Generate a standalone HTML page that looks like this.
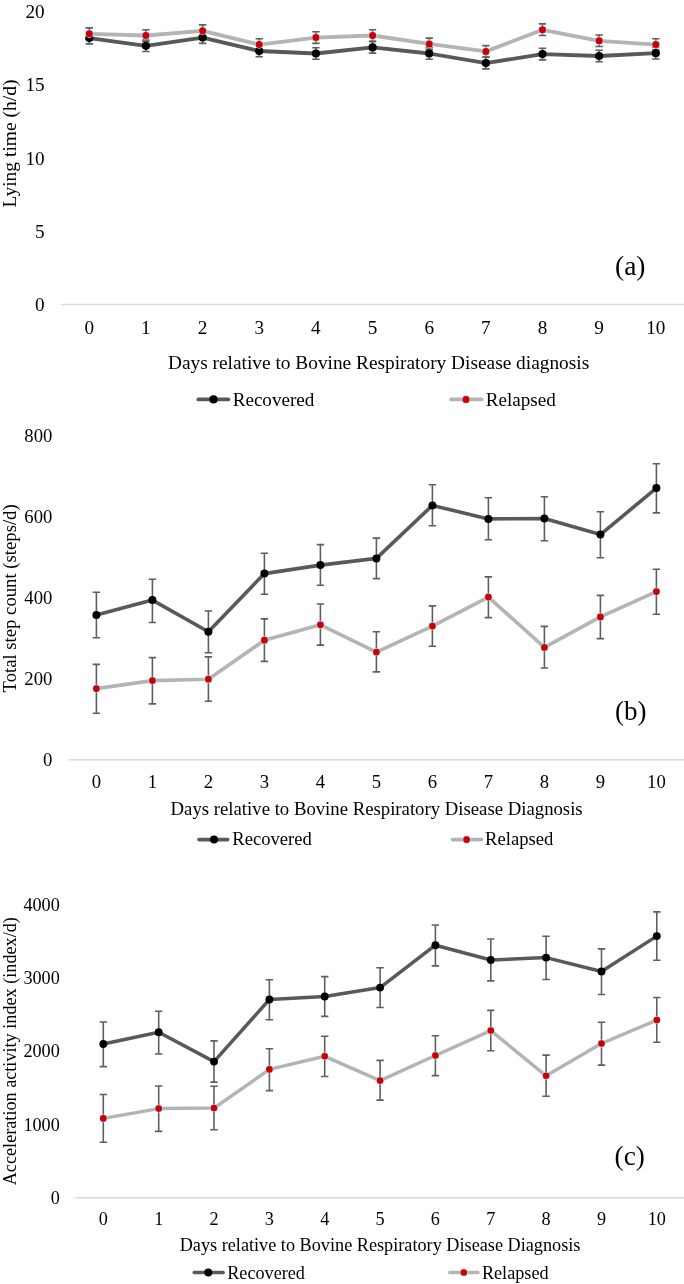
<!DOCTYPE html>
<html><head><meta charset="utf-8"><style>
html,body{margin:0;padding:0;background:#fff;}
body{width:684px;height:1284px;overflow:hidden;position:relative;}
svg{display:block;position:absolute;left:0;top:0;}
#txt{will-change:transform;}
svg text{font-family:"Liberation Serif", serif;fill:#000;}
</style></head><body>
<svg width="684" height="1284" viewBox="0 0 684 1284">
<rect width="684" height="1284" fill="#fff"/>
<line x1="61" y1="304.5" x2="690" y2="304.5" stroke="#dadada" stroke-width="1.5"/>
<path d="M89.3 32.3V43.9M85.6 32.3H93.0M85.6 43.9H93.0M145.9 40.0V51.5M142.2 40.0H149.6M142.2 51.5H149.6M202.6 31.8V43.4M198.9 31.8H206.3M198.9 43.4H206.3M259.2 45.2V56.8M255.6 45.2H262.9M255.6 56.8H262.9M315.9 47.7V59.2M312.2 47.7H319.6M312.2 59.2H319.6M372.6 41.6V53.1M368.9 41.6H376.2M368.9 53.1H376.2M429.2 47.7V59.2M425.5 47.7H432.9M425.5 59.2H432.9M485.9 57.3V68.9M482.2 57.3H489.6M482.2 68.9H489.6M542.5 48.3V59.9M538.8 48.3H546.2M538.8 59.9H546.2M599.1 50.2V61.8M595.4 50.2H602.9M595.4 61.8H602.9M655.8 47.5V59.0M652.1 47.5H659.5M652.1 59.0H659.5" stroke="#5f5f5f" stroke-width="1.6" fill="none"/>
<path d="M89.3 27.9V39.5M85.6 27.9H93.0M85.6 39.5H93.0M145.9 29.7V41.2M142.2 29.7H149.6M142.2 41.2H149.6M202.6 24.9V36.5M198.9 24.9H206.3M198.9 36.5H206.3M259.2 38.8V50.4M255.6 38.8H262.9M255.6 50.4H262.9M315.9 31.8V43.4M312.2 31.8H319.6M312.2 43.4H319.6M372.6 29.7V41.2M368.9 29.7H376.2M368.9 41.2H376.2M429.2 38.1V49.6M425.5 38.1H432.9M425.5 49.6H432.9M485.9 45.6V57.1M482.2 45.6H489.6M482.2 57.1H489.6M542.5 23.9V35.5M538.8 23.9H546.2M538.8 35.5H546.2M599.1 35.0V46.5M595.4 35.0H602.9M595.4 46.5H602.9M655.8 38.8V50.4M652.1 38.8H659.5M652.1 50.4H659.5" stroke="#5f5f5f" stroke-width="1.6" fill="none"/>
<polyline points="89.3,33.8 145.9,35.5 202.6,30.8 259.2,44.6 315.9,37.6 372.6,35.5 429.2,43.9 485.9,51.4 542.5,29.8 599.1,40.8 655.8,44.6" fill="none" stroke="#b4b4b4" stroke-width="3.8" stroke-linejoin="round"/>
<polyline points="89.3,38.1 145.9,45.8 202.6,37.6 259.2,51.0 315.9,53.5 372.6,47.4 429.2,53.5 485.9,63.1 542.5,54.1 599.1,56.0 655.8,53.2" fill="none" stroke="#595959" stroke-width="3.8" stroke-linejoin="round"/>
<circle cx="89.3" cy="38.1" r="4.1" fill="#000"/>
<circle cx="145.9" cy="45.8" r="4.1" fill="#000"/>
<circle cx="202.6" cy="37.6" r="4.1" fill="#000"/>
<circle cx="259.2" cy="51.0" r="4.1" fill="#000"/>
<circle cx="315.9" cy="53.5" r="4.1" fill="#000"/>
<circle cx="372.6" cy="47.4" r="4.1" fill="#000"/>
<circle cx="429.2" cy="53.5" r="4.1" fill="#000"/>
<circle cx="485.9" cy="63.1" r="4.1" fill="#000"/>
<circle cx="542.5" cy="54.1" r="4.1" fill="#000"/>
<circle cx="599.1" cy="56.0" r="4.1" fill="#000"/>
<circle cx="655.8" cy="53.2" r="4.1" fill="#000"/>
<circle cx="89.3" cy="33.8" r="4.10" fill="#d2d6d6"/><circle cx="89.3" cy="33.8" r="3.5" fill="#c8000a"/>
<circle cx="145.9" cy="35.5" r="4.10" fill="#d2d6d6"/><circle cx="145.9" cy="35.5" r="3.5" fill="#c8000a"/>
<circle cx="202.6" cy="30.8" r="4.10" fill="#d2d6d6"/><circle cx="202.6" cy="30.8" r="3.5" fill="#c8000a"/>
<circle cx="259.2" cy="44.6" r="4.10" fill="#d2d6d6"/><circle cx="259.2" cy="44.6" r="3.5" fill="#c8000a"/>
<circle cx="315.9" cy="37.6" r="4.10" fill="#d2d6d6"/><circle cx="315.9" cy="37.6" r="3.5" fill="#c8000a"/>
<circle cx="372.6" cy="35.5" r="4.10" fill="#d2d6d6"/><circle cx="372.6" cy="35.5" r="3.5" fill="#c8000a"/>
<circle cx="429.2" cy="43.9" r="4.10" fill="#d2d6d6"/><circle cx="429.2" cy="43.9" r="3.5" fill="#c8000a"/>
<circle cx="485.9" cy="51.4" r="4.10" fill="#d2d6d6"/><circle cx="485.9" cy="51.4" r="3.5" fill="#c8000a"/>
<circle cx="542.5" cy="29.8" r="4.10" fill="#d2d6d6"/><circle cx="542.5" cy="29.8" r="3.5" fill="#c8000a"/>
<circle cx="599.1" cy="40.8" r="4.10" fill="#d2d6d6"/><circle cx="599.1" cy="40.8" r="3.5" fill="#c8000a"/>
<circle cx="655.8" cy="44.6" r="4.10" fill="#d2d6d6"/><circle cx="655.8" cy="44.6" r="3.5" fill="#c8000a"/>
<line x1="198.40" y1="399.4" x2="228.40" y2="399.4" stroke="#595959" stroke-width="3.8" stroke-linecap="round"/>
<circle cx="213.5" cy="399.4" r="4.1" fill="#000"/>
<line x1="451.10" y1="399.4" x2="481.50" y2="399.4" stroke="#b4b4b4" stroke-width="3.8" stroke-linecap="round"/>
<circle cx="466" cy="399.4" r="4.10" fill="#d2d6d6"/><circle cx="466" cy="399.4" r="3.5" fill="#c8000a"/>
<line x1="68.5" y1="759.7" x2="690" y2="759.7" stroke="#dadada" stroke-width="1.5"/>
<path d="M96.4 592.3V637.7M92.7 592.3H100.1M92.7 637.7H100.1M152.4 579.2V622.5M148.7 579.2H156.1M148.7 622.5H156.1M208.4 611.0V652.7M204.7 611.0H212.1M204.7 652.7H212.1M264.4 553.3V594.2M260.7 553.3H268.1M260.7 594.2H268.1M320.4 544.6V585.3M316.7 544.6H324.1M316.7 585.3H324.1M376.4 538.1V578.6M372.7 538.1H380.1M372.7 578.6H380.1M432.4 484.8V525.8M428.7 484.8H436.1M428.7 525.8H436.1M488.4 497.7V539.8M484.7 497.7H492.1M484.7 539.8H492.1M544.4 496.7V540.7M540.7 496.7H548.1M540.7 540.7H548.1M600.4 511.7V557.8M596.7 511.7H604.1M596.7 557.8H604.1M656.4 463.8V512.9M652.7 463.8H660.1M652.7 512.9H660.1" stroke="#5f5f5f" stroke-width="1.6" fill="none"/>
<path d="M96.4 664.4V713.2M92.7 664.4H100.1M92.7 713.2H100.1M152.4 657.6V703.9M148.7 657.6H156.1M148.7 703.9H156.1M208.4 656.9V701.3M204.7 656.9H212.1M204.7 701.3H212.1M264.4 618.9V661.4M260.7 618.9H268.1M260.7 661.4H268.1M320.4 604.0V645.1M316.7 604.0H324.1M316.7 645.1H324.1M376.4 631.8V671.9M372.7 631.8H380.1M372.7 671.9H380.1M432.4 605.9V646.2M428.7 605.9H436.1M428.7 646.2H436.1M488.4 576.9V617.6M484.7 576.9H492.1M484.7 617.6H492.1M544.4 626.4V668.0M540.7 626.4H548.1M540.7 668.0H548.1M600.4 595.4V638.6M596.7 595.4H604.1M596.7 638.6H604.1M656.4 569.3V614.2M652.7 569.3H660.1M652.7 614.2H660.1" stroke="#5f5f5f" stroke-width="1.6" fill="none"/>
<polyline points="96.4,688.6 152.4,680.6 208.4,679.2 264.4,640.2 320.4,624.8 376.4,652.1 432.4,626.1 488.4,597.1 544.4,647.4 600.4,616.9 656.4,591.6" fill="none" stroke="#b4b4b4" stroke-width="3.6" stroke-linejoin="round"/>
<polyline points="96.4,615.0 152.4,600.1 208.4,631.8 264.4,573.6 320.4,565.1 376.4,558.4 432.4,505.4 488.4,518.9 544.4,518.6 600.4,534.6 656.4,488.1" fill="none" stroke="#595959" stroke-width="3.6" stroke-linejoin="round"/>
<circle cx="96.4" cy="615.0" r="4.0" fill="#000"/>
<circle cx="152.4" cy="600.1" r="4.0" fill="#000"/>
<circle cx="208.4" cy="631.8" r="4.0" fill="#000"/>
<circle cx="264.4" cy="573.6" r="4.0" fill="#000"/>
<circle cx="320.4" cy="565.1" r="4.0" fill="#000"/>
<circle cx="376.4" cy="558.4" r="4.0" fill="#000"/>
<circle cx="432.4" cy="505.4" r="4.0" fill="#000"/>
<circle cx="488.4" cy="518.9" r="4.0" fill="#000"/>
<circle cx="544.4" cy="518.6" r="4.0" fill="#000"/>
<circle cx="600.4" cy="534.6" r="4.0" fill="#000"/>
<circle cx="656.4" cy="488.1" r="4.0" fill="#000"/>
<circle cx="96.4" cy="688.6" r="3.95" fill="#d2d6d6"/><circle cx="96.4" cy="688.6" r="3.35" fill="#c8000a"/>
<circle cx="152.4" cy="680.6" r="3.95" fill="#d2d6d6"/><circle cx="152.4" cy="680.6" r="3.35" fill="#c8000a"/>
<circle cx="208.4" cy="679.2" r="3.95" fill="#d2d6d6"/><circle cx="208.4" cy="679.2" r="3.35" fill="#c8000a"/>
<circle cx="264.4" cy="640.2" r="3.95" fill="#d2d6d6"/><circle cx="264.4" cy="640.2" r="3.35" fill="#c8000a"/>
<circle cx="320.4" cy="624.8" r="3.95" fill="#d2d6d6"/><circle cx="320.4" cy="624.8" r="3.35" fill="#c8000a"/>
<circle cx="376.4" cy="652.1" r="3.95" fill="#d2d6d6"/><circle cx="376.4" cy="652.1" r="3.35" fill="#c8000a"/>
<circle cx="432.4" cy="626.1" r="3.95" fill="#d2d6d6"/><circle cx="432.4" cy="626.1" r="3.35" fill="#c8000a"/>
<circle cx="488.4" cy="597.1" r="3.95" fill="#d2d6d6"/><circle cx="488.4" cy="597.1" r="3.35" fill="#c8000a"/>
<circle cx="544.4" cy="647.4" r="3.95" fill="#d2d6d6"/><circle cx="544.4" cy="647.4" r="3.35" fill="#c8000a"/>
<circle cx="600.4" cy="616.9" r="3.95" fill="#d2d6d6"/><circle cx="600.4" cy="616.9" r="3.35" fill="#c8000a"/>
<circle cx="656.4" cy="591.6" r="3.95" fill="#d2d6d6"/><circle cx="656.4" cy="591.6" r="3.35" fill="#c8000a"/>
<line x1="199.00" y1="839.6" x2="227.70" y2="839.6" stroke="#595959" stroke-width="3.6" stroke-linecap="round"/>
<circle cx="214" cy="839.6" r="4.0" fill="#000"/>
<line x1="452.40" y1="839.6" x2="481.60" y2="839.6" stroke="#b4b4b4" stroke-width="3.6" stroke-linecap="round"/>
<circle cx="466.6" cy="839.6" r="3.95" fill="#d2d6d6"/><circle cx="466.6" cy="839.6" r="3.35" fill="#c8000a"/>
<line x1="75.5" y1="1197.7" x2="690" y2="1197.7" stroke="#dadada" stroke-width="1.5"/>
<path d="M103.3 1022.0V1066.6M99.6 1022.0H107.0M99.6 1066.6H107.0M158.7 1011.2V1054.0M155.0 1011.2H162.3M155.0 1054.0H162.3M214.0 1040.9V1082.1M210.3 1040.9H217.7M210.3 1082.1H217.7M269.4 979.7V1019.7M265.7 979.7H273.1M265.7 1019.7H273.1M324.7 976.6V1016.4M321.0 976.6H328.4M321.0 1016.4H328.4M380.1 967.7V1007.5M376.4 967.7H383.8M376.4 1007.5H383.8M435.4 925.0V965.9M431.7 925.0H439.1M431.7 965.9H439.1M490.8 939.0V980.9M487.1 939.0H494.4M487.1 980.9H494.4M546.1 936.2V979.5M542.4 936.2H549.8M542.4 979.5H549.8M601.5 948.9V994.5M597.8 948.9H605.2M597.8 994.5H605.2M656.8 911.9V960.3M653.1 911.9H660.5M653.1 960.3H660.5" stroke="#5f5f5f" stroke-width="1.6" fill="none"/>
<path d="M103.3 1094.5V1142.2M99.6 1094.5H107.0M99.6 1142.2H107.0M158.7 1086.0V1131.4M155.0 1086.0H162.3M155.0 1131.4H162.3M214.0 1086.3V1129.8M210.3 1086.3H217.7M210.3 1129.8H217.7M269.4 1048.7V1090.6M265.7 1048.7H273.1M265.7 1090.6H273.1M324.7 1036.3V1076.5M321.0 1036.3H328.4M321.0 1076.5H328.4M380.1 1060.4V1100.1M376.4 1060.4H383.8M376.4 1100.1H383.8M435.4 1035.7V1075.6M431.7 1035.7H439.1M431.7 1075.6H439.1M490.8 1010.4V1050.7M487.1 1010.4H494.4M487.1 1050.7H494.4M546.1 1055.1V1096.2M542.4 1055.1H549.8M542.4 1096.2H549.8M601.5 1022.3V1065.1M597.8 1022.3H605.2M597.8 1065.1H605.2M656.8 997.5V1042.2M653.1 997.5H660.5M653.1 1042.2H660.5" stroke="#5f5f5f" stroke-width="1.6" fill="none"/>
<polyline points="103.3,1118.4 158.7,1108.6 214.0,1108.1 269.4,1069.4 324.7,1056.3 380.1,1080.6 435.4,1055.5 490.8,1030.6 546.1,1075.8 601.5,1043.5 656.8,1020.1" fill="none" stroke="#b4b4b4" stroke-width="3.5" stroke-linejoin="round"/>
<polyline points="103.3,1044.0 158.7,1032.3 214.0,1061.6 269.4,999.5 324.7,996.5 380.1,987.6 435.4,945.2 490.8,960.0 546.1,957.6 601.5,971.5 656.8,936.1" fill="none" stroke="#595959" stroke-width="3.5" stroke-linejoin="round"/>
<circle cx="103.3" cy="1044.0" r="3.95" fill="#000"/>
<circle cx="158.7" cy="1032.3" r="3.95" fill="#000"/>
<circle cx="214.0" cy="1061.6" r="3.95" fill="#000"/>
<circle cx="269.4" cy="999.5" r="3.95" fill="#000"/>
<circle cx="324.7" cy="996.5" r="3.95" fill="#000"/>
<circle cx="380.1" cy="987.6" r="3.95" fill="#000"/>
<circle cx="435.4" cy="945.2" r="3.95" fill="#000"/>
<circle cx="490.8" cy="960.0" r="3.95" fill="#000"/>
<circle cx="546.1" cy="957.6" r="3.95" fill="#000"/>
<circle cx="601.5" cy="971.5" r="3.95" fill="#000"/>
<circle cx="656.8" cy="936.1" r="3.95" fill="#000"/>
<circle cx="103.3" cy="1118.4" r="3.90" fill="#d2d6d6"/><circle cx="103.3" cy="1118.4" r="3.3" fill="#c8000a"/>
<circle cx="158.7" cy="1108.6" r="3.90" fill="#d2d6d6"/><circle cx="158.7" cy="1108.6" r="3.3" fill="#c8000a"/>
<circle cx="214.0" cy="1108.1" r="3.90" fill="#d2d6d6"/><circle cx="214.0" cy="1108.1" r="3.3" fill="#c8000a"/>
<circle cx="269.4" cy="1069.4" r="3.90" fill="#d2d6d6"/><circle cx="269.4" cy="1069.4" r="3.3" fill="#c8000a"/>
<circle cx="324.7" cy="1056.3" r="3.90" fill="#d2d6d6"/><circle cx="324.7" cy="1056.3" r="3.3" fill="#c8000a"/>
<circle cx="380.1" cy="1080.6" r="3.90" fill="#d2d6d6"/><circle cx="380.1" cy="1080.6" r="3.3" fill="#c8000a"/>
<circle cx="435.4" cy="1055.5" r="3.90" fill="#d2d6d6"/><circle cx="435.4" cy="1055.5" r="3.3" fill="#c8000a"/>
<circle cx="490.8" cy="1030.6" r="3.90" fill="#d2d6d6"/><circle cx="490.8" cy="1030.6" r="3.3" fill="#c8000a"/>
<circle cx="546.1" cy="1075.8" r="3.90" fill="#d2d6d6"/><circle cx="546.1" cy="1075.8" r="3.3" fill="#c8000a"/>
<circle cx="601.5" cy="1043.5" r="3.90" fill="#d2d6d6"/><circle cx="601.5" cy="1043.5" r="3.3" fill="#c8000a"/>
<circle cx="656.8" cy="1020.1" r="3.90" fill="#d2d6d6"/><circle cx="656.8" cy="1020.1" r="3.3" fill="#c8000a"/>
<line x1="194.25" y1="1272.5" x2="223.15" y2="1272.5" stroke="#595959" stroke-width="3.5" stroke-linecap="round"/>
<circle cx="208.3" cy="1272.5" r="3.95" fill="#000"/>
<line x1="449.75" y1="1272.5" x2="477.95" y2="1272.5" stroke="#b4b4b4" stroke-width="3.5" stroke-linecap="round"/>
<circle cx="463.8" cy="1272.5" r="3.90" fill="#d2d6d6"/><circle cx="463.8" cy="1272.5" r="3.3" fill="#c8000a"/>
</svg>
<svg id="txt" width="684" height="1284" viewBox="0 0 684 1284">
<text x="44.6" y="18.2" font-size="19.2" text-anchor="end">20</text>
<text x="44.6" y="91.4" font-size="19.2" text-anchor="end">15</text>
<text x="44.6" y="164.6" font-size="19.2" text-anchor="end">10</text>
<text x="44.6" y="237.8" font-size="19.2" text-anchor="end">5</text>
<text x="44.6" y="311.0" font-size="19.2" text-anchor="end">0</text>
<text x="89.3" y="334.0" font-size="19.2" text-anchor="middle">0</text>
<text x="145.9" y="334.0" font-size="19.2" text-anchor="middle">1</text>
<text x="202.6" y="334.0" font-size="19.2" text-anchor="middle">2</text>
<text x="259.2" y="334.0" font-size="19.2" text-anchor="middle">3</text>
<text x="315.9" y="334.0" font-size="19.2" text-anchor="middle">4</text>
<text x="372.6" y="334.0" font-size="19.2" text-anchor="middle">5</text>
<text x="429.2" y="334.0" font-size="19.2" text-anchor="middle">6</text>
<text x="485.9" y="334.0" font-size="19.2" text-anchor="middle">7</text>
<text x="542.5" y="334.0" font-size="19.2" text-anchor="middle">8</text>
<text x="599.1" y="334.0" font-size="19.2" text-anchor="middle">9</text>
<text x="655.8" y="334.0" font-size="19.2" text-anchor="middle">10</text>
<text x="168.0" y="368.8" font-size="19.35">Days relative to Bovine Respiratory Disease diagnosis</text>
<text transform="translate(16.2,143.5) rotate(-90)" font-size="19.5" text-anchor="middle">Lying time (h/d)</text>
<text x="232.7" y="405.6" font-size="19.1">Recovered</text>
<text x="485.7" y="405.6" font-size="19.1">Relapsed</text>
<text x="615" y="275.1" font-size="27.5">(a)</text>
<text x="52.4" y="442.1" font-size="18.7" text-anchor="end">800</text>
<text x="52.4" y="523.1" font-size="18.7" text-anchor="end">600</text>
<text x="52.4" y="604.0" font-size="18.7" text-anchor="end">400</text>
<text x="52.4" y="685.0" font-size="18.7" text-anchor="end">200</text>
<text x="52.4" y="766.0" font-size="18.7" text-anchor="end">0</text>
<text x="96.4" y="788.0" font-size="18.7" text-anchor="middle">0</text>
<text x="152.4" y="788.0" font-size="18.7" text-anchor="middle">1</text>
<text x="208.4" y="788.0" font-size="18.7" text-anchor="middle">2</text>
<text x="264.4" y="788.0" font-size="18.7" text-anchor="middle">3</text>
<text x="320.4" y="788.0" font-size="18.7" text-anchor="middle">4</text>
<text x="376.4" y="788.0" font-size="18.7" text-anchor="middle">5</text>
<text x="432.4" y="788.0" font-size="18.7" text-anchor="middle">6</text>
<text x="488.4" y="788.0" font-size="18.7" text-anchor="middle">7</text>
<text x="544.4" y="788.0" font-size="18.7" text-anchor="middle">8</text>
<text x="600.4" y="788.0" font-size="18.7" text-anchor="middle">9</text>
<text x="656.4" y="788.0" font-size="18.7" text-anchor="middle">10</text>
<text x="170.6" y="814.6" font-size="18.74">Days relative to Bovine Respiratory Disease Diagnosis</text>
<text transform="translate(15.6,598.4) rotate(-90)" font-size="18.7" text-anchor="middle">Total step count (steps/d)</text>
<text x="232.29999999999998" y="845.2" font-size="18.6">Recovered</text>
<text x="485.09999999999997" y="845.2" font-size="18.6">Relapsed</text>
<text x="615" y="720.2" font-size="27.0">(b)</text>
<text x="59.8" y="910.7" font-size="18.2" text-anchor="end">4000</text>
<text x="59.8" y="984.0" font-size="18.2" text-anchor="end">3000</text>
<text x="59.8" y="1057.3" font-size="18.2" text-anchor="end">2000</text>
<text x="59.8" y="1130.6" font-size="18.2" text-anchor="end">1000</text>
<text x="59.8" y="1203.9" font-size="18.2" text-anchor="end">0</text>
<text x="103.3" y="1225.2" font-size="18.2" text-anchor="middle">0</text>
<text x="158.7" y="1225.2" font-size="18.2" text-anchor="middle">1</text>
<text x="214.0" y="1225.2" font-size="18.2" text-anchor="middle">2</text>
<text x="269.4" y="1225.2" font-size="18.2" text-anchor="middle">3</text>
<text x="324.7" y="1225.2" font-size="18.2" text-anchor="middle">4</text>
<text x="380.1" y="1225.2" font-size="18.2" text-anchor="middle">5</text>
<text x="435.4" y="1225.2" font-size="18.2" text-anchor="middle">6</text>
<text x="490.8" y="1225.2" font-size="18.2" text-anchor="middle">7</text>
<text x="546.1" y="1225.2" font-size="18.2" text-anchor="middle">8</text>
<text x="601.5" y="1225.2" font-size="18.2" text-anchor="middle">9</text>
<text x="656.8" y="1225.2" font-size="18.2" text-anchor="middle">10</text>
<text x="179.7" y="1250.7" font-size="18.23">Days relative to Bovine Respiratory Disease Diagnosis</text>
<text transform="translate(15.5,1051.2) rotate(-90)" font-size="18.2" text-anchor="middle">Acceleration activity index (index/d)</text>
<text x="227.2" y="1278.6" font-size="18.2">Recovered</text>
<text x="481.9" y="1278.6" font-size="18.2">Relapsed</text>
<text x="614.6" y="1164.8" font-size="27.3">(c)</text>
</svg>
</body></html>
